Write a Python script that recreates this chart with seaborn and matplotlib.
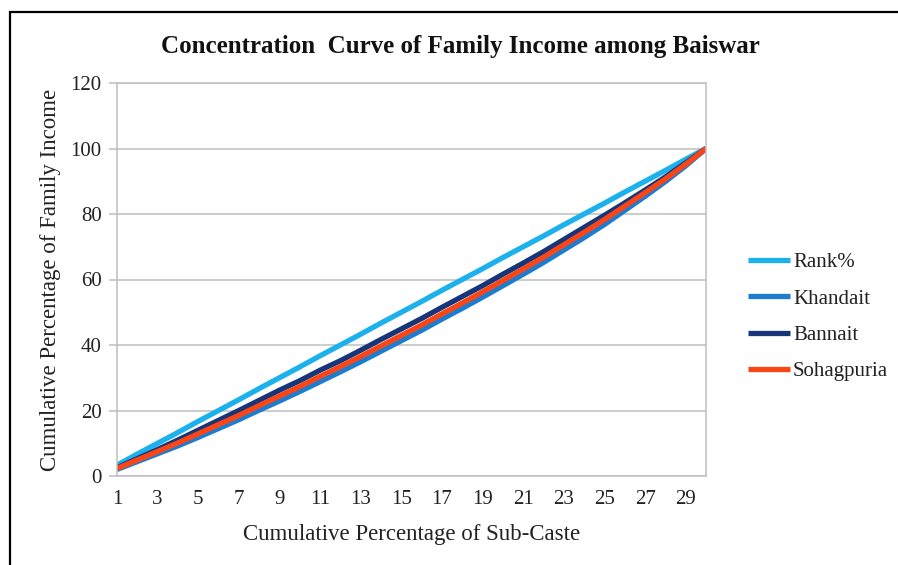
import matplotlib
matplotlib.use("Agg")
import matplotlib.pyplot as plt
from matplotlib.patches import Rectangle
import seaborn as sns
import pandas as pd

# Cumulative percentage of sub-caste (category positions 1..30)
steps = list(range(1, 31))

rank_pct = [3.3, 6.7, 10.0, 13.3, 16.7, 20.0, 23.3, 26.7, 30.0, 33.3,
            36.7, 40.0, 43.3, 46.7, 50.0, 53.3, 56.7, 60.0, 63.3, 66.7,
            70.0, 73.3, 76.7, 80.0, 83.3, 86.7, 90.0, 93.3, 96.7, 100.0]
khandait = [2.0, 4.4, 6.8, 9.2, 11.8, 14.5, 17.2, 20.1, 22.9, 25.8,
            28.8, 31.8, 34.9, 38.1, 41.3, 44.5, 47.9, 51.2, 54.6, 58.1,
            61.6, 65.2, 69.0, 72.8, 76.8, 81.1, 85.4, 89.9, 94.7, 100.0]
bannait = [2.5, 5.3, 8.1, 11.0, 14.0, 17.0, 20.0, 23.1, 26.2, 29.1,
           32.3, 35.2, 38.4, 41.7, 44.9, 48.1, 51.5, 54.8, 58.1, 61.6,
           65.0, 68.5, 72.2, 75.9, 79.6, 83.4, 87.3, 91.3, 95.6, 100.0]
sohagpuria = [2.3, 4.9, 7.5, 10.1, 12.9, 15.7, 18.5, 21.5, 24.4, 27.3,
              30.4, 33.4, 36.5, 39.7, 42.9, 46.1, 49.5, 52.8, 56.2, 59.7,
              63.2, 66.8, 70.6, 74.4, 78.3, 82.4, 86.5, 90.7, 95.2, 100.0]

series_names = ["Rank%", "Khandait", "Bannait", "Sohagpuria"]
series_values = [rank_pct, khandait, bannait, sohagpuria]
colors = ["#1BB1EC", "#1C7DD0", "#17367A", "#FA4616"]

y_ticks = [0, 20, 40, 60, 80, 100, 120]
x_ticks = list(range(1, 30, 2))

frames = []
for name, vals in zip(series_names, series_values):
    frames.append(pd.DataFrame({"step": steps, "value": vals, "series": name}))
df = pd.concat(frames, ignore_index=True)

sns.set_style("white")
plt.rcParams["font.family"] = ["Liberation Serif", "DejaVu Serif"]

fig = plt.figure(figsize=(8.98, 5.65), dpi=100)
ax = fig.add_axes([117 / 898, 1 - 476 / 565, (706 - 117) / 898, (476 - 83) / 565])

sns.lineplot(data=df, x="step", y="value", hue="series", hue_order=series_names,
             palette=dict(zip(series_names, colors)), linewidth=3.8,
             sort=False, legend=False, ax=ax, solid_capstyle="butt")

ax.set_xlim(1, 30)
ax.set_ylim(0, 120)
ax.set_yticks(y_ticks)
ax.set_xticks(x_ticks)
ax.set_xticklabels([str(t) for t in x_ticks], fontsize=15, color="#222222")
ax.set_yticklabels([str(t) for t in y_ticks], fontsize=15, color="#222222")
ax.yaxis.grid(True, color="#BFBFBF", linewidth=1.1)
ax.set_axisbelow(True)
for sp in ax.spines.values():
    sp.set_color("#BFBFBF")
    sp.set_linewidth(1.1)
ax.tick_params(axis="y", length=6, width=1.1, color="#BFBFBF", pad=5, left=True)
ax.tick_params(axis="x", length=0, pad=10)

ax.set_xlabel("Cumulative Percentage of Sub-Caste", fontsize=16.5, color="#222222", labelpad=11)
ax.set_ylabel("Cumulative Percentage of Family Income", fontsize=16.5, color="#222222", labelpad=7)

fig.text(460 / 898, 1 - 46 / 565, "Concentration  Curve of Family Income among Baiswar",
         ha="center", va="center", fontsize=18, fontweight="bold", color="#111111")

handles = ax.get_lines()[:4]
leg = fig.legend(handles, series_names, loc="center left",
                 bbox_to_anchor=(740 / 898, 1 - 317 / 565), frameon=False,
                 fontsize=15, handlelength=2.0, handletextpad=0.15,
                 labelspacing=0.8, borderaxespad=0)
for t in leg.get_texts():
    t.set_color("#222222")

# Outer chart frame
fig.patches.append(Rectangle((10 / 898, -0.05), 1.0, 1 - 12 / 565 + 0.05,
                             transform=fig.transFigure, fill=False,
                             edgecolor="black", linewidth=1.6))

fig.savefig("out.png", dpi=100)
